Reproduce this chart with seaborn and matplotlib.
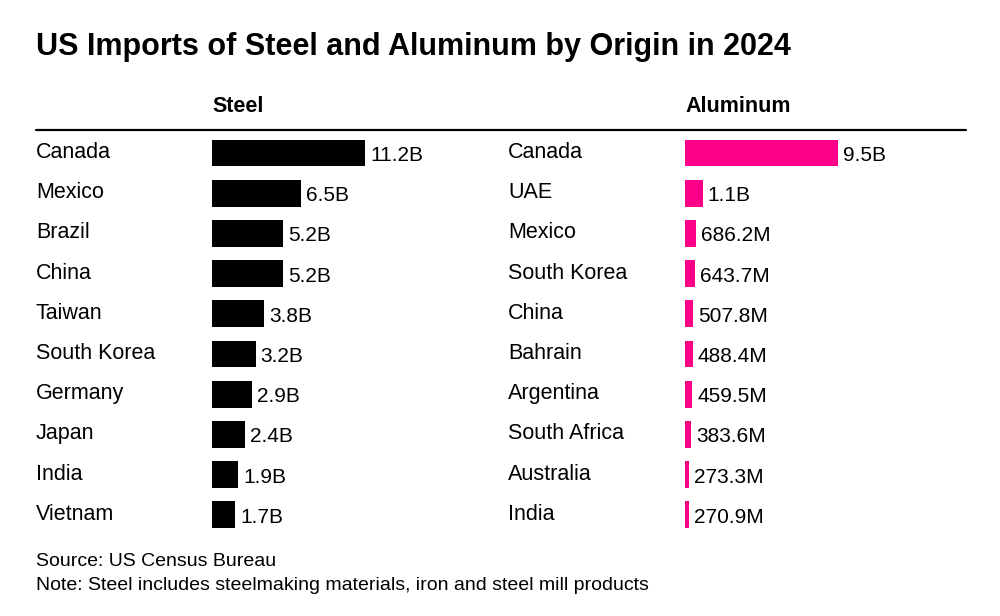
import matplotlib
matplotlib.use("Agg")
import matplotlib.pyplot as plt
import matplotlib.transforms as mtransforms
from matplotlib.lines import Line2D
import seaborn as sns
import pandas as pd

# Data
steel_countries = ["Canada", "Mexico", "Brazil", "China", "Taiwan",
                   "South Korea", "Germany", "Japan", "India", "Vietnam"]
steel_values = [11.2, 6.5, 5.2, 5.2, 3.8, 3.2, 2.9, 2.4, 1.9, 1.7]  # billions
steel_labels = ["11.2B", "6.5B", "5.2B", "5.2B", "3.8B",
                "3.2B", "2.9B", "2.4B", "1.9B", "1.7B"]

alum_countries = ["Canada", "UAE", "Mexico", "South Korea", "China",
                  "Bahrain", "Argentina", "South Africa", "Australia", "India"]
alum_values = [9.5, 1.1, 0.6862, 0.6437, 0.5078,
               0.4884, 0.4595, 0.3836, 0.2733, 0.2709]  # billions
alum_labels = ["9.5B", "1.1B", "686.2M", "643.7M", "507.8M",
               "488.4M", "459.5M", "383.6M", "273.3M", "270.9M"]

W, H = 1000, 616

sns.set_theme(style="white")
plt.rcParams["font.family"] = ["Liberation Sans", "DejaVu Sans"]

fig = plt.figure(figsize=(W / 100, H / 100), dpi=100)
fig.patch.set_facecolor("white")

# rows: first centre at y=153 px, spacing ~40.2 px
row_h = 40.2
top_px = 153 - row_h / 2
bot_px = top_px + row_h * 10
bar_px = 153  # max bar length in pixels
ax_w_px = 260


def panel(left_px, countries, values, labels, color, label_x_px, header):
    ax = fig.add_axes([left_px / W, 1 - bot_px / H, ax_w_px / W, (bot_px - top_px) / H])
    df = pd.DataFrame({"country": countries, "value": values})
    sns.barplot(data=df, x="value", y="country", order=countries, color=color,
                saturation=1, width=0.67, linewidth=0, ax=ax)
    xmax = max(values) * ax_w_px / bar_px
    ax.set_xlim(0, xmax)
    ax.set_ylim(9.5, -0.5)
    ax.axis("off")
    off = 5 * xmax / ax_w_px
    for i, (v, lab) in enumerate(zip(values, labels)):
        ax.text(v + off, i + 8 / row_h, lab, ha="left", va="baseline",
                fontsize=15, color="black")
    tr = mtransforms.blended_transform_factory(fig.transFigure, ax.transData)
    for i, c in enumerate(countries):
        ax.text(label_x_px / W, i + 5 / row_h, c, transform=tr, ha="left",
                va="baseline", fontsize=15.5, color="black")
    fig.text(left_px / W, 1 - 106 / H, header, ha="left", va="center",
             fontsize=15.5, fontweight="bold", color="black")
    return ax


panel(212, steel_countries, steel_values, steel_labels, "#000000", 36, "Steel")
panel(685, alum_countries, alum_values, alum_labels, "#ff0088", 508, "Aluminum")

# header rule
fig.add_artist(Line2D([36 / W, 966 / W], [1 - 130 / H, 1 - 130 / H],
                      transform=fig.transFigure, color="black", linewidth=1.6))

fig.text(36 / W, 1 - 47 / H, "US Imports of Steel and Aluminum by Origin in 2024",
         ha="left", va="center", fontsize=22, fontweight="bold", color="black")

fig.text(36 / W, 1 - 562 / H, "Source: US Census Bureau",
         ha="left", va="center", fontsize=14, color="black")
fig.text(36 / W, 1 - 585 / H,
         "Note: Steel includes steelmaking materials, iron and steel mill products",
         ha="left", va="center", fontsize=14, color="black")

fig.savefig("out.png", dpi=100, facecolor="white")
